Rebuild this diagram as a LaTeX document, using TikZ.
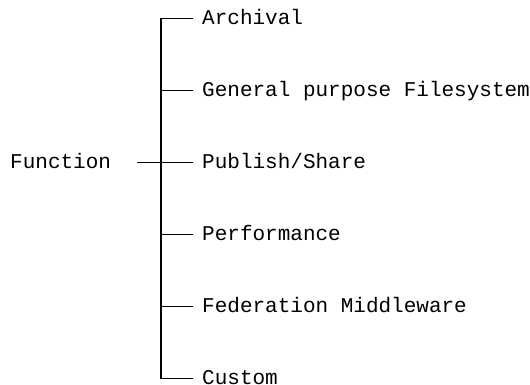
\documentclass[tikz,border=0pt]{standalone}
\usepackage{fontspec}
\setmonofont{Liberation Mono}
\begin{document}
\begin{tikzpicture}[x=1pt,y=-1pt,
  label/.style={anchor=base west,inner sep=0pt,font=\ttfamily\fontsize{21}{21}\selectfont},
  branch/.style={line width=1.2pt,line join=miter,shorten >=9pt}]
\useasboundingbox (0,0) rectangle (530,385);

% root and its leader
\node[label] (fn) at (10,168.5) {Function};
\coordinate (fs) at (137,162.5);

% trunk junctions
\foreach \i/\y in {1/18.5,2/90.5,3/162.5,4/234.5,5/306.5,6/378.5}
  \coordinate (j\i) at (161,\y);

% leaves
\node[label] (c1) at (202,24.5)  {Archival};
\node[label] (c2) at (202,96.5)  {General purpose Filesystem};
\node[label] (c3) at (202,168.5) {Publish/Share};
\node[label] (c4) at (202,240.5) {Performance};
\node[label] (c5) at (202,312.5) {Federation Middleware};
\node[label] (c6) at (202,384.5) {Custom};

% trunk with its top and bottom branches
\draw[line width=1.2pt,line join=miter]
  ([xshift=-9pt]j1 -| c1.west) -- (j1) -- (j6) -- ([xshift=-9pt]j6 -| c6.west);
% middle branches
\foreach \i in {2,3,4,5}
  \draw[branch] (j\i) -- (j\i -| c\i.west);
% root leader
\draw[line width=1.2pt] (fs) -- (j3);
\end{tikzpicture}
\end{document}
